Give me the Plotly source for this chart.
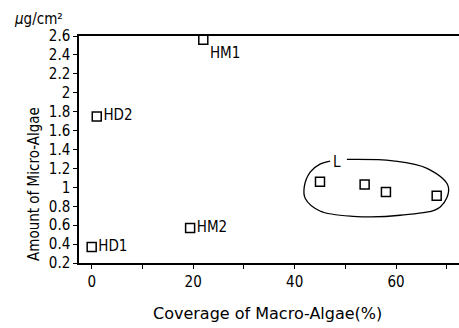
import plotly.graph_objects as go

# Data
site_labels = ["HD1", "HD2", "HM1", "HM2"]
site_x = [0.0, 1.0, 22.0, 19.4]
site_y = [0.37, 1.75, 2.56, 0.57]

l_x = [45.0, 53.8, 58.0, 68.0]
l_y = [1.06, 1.03, 0.95, 0.91]

# outline around group L (data coords)
outline_x = [50.3, 59.4, 66.1, 70.3, 68.7, 60.8, 51.5, 45.0, 42.1, 41.9, 43.1, 45.0, 47.0]
outline_y = [1.295, 1.28, 1.20, 1.005, 0.793, 0.705, 0.694, 0.75, 0.882, 1.005, 1.163, 1.245, 1.277]

y_ticks = [0.2, 0.4, 0.6, 0.8, 1, 1.2, 1.4, 1.6, 1.8, 2, 2.2, 2.4, 2.6]
x_ticks = [0, 20, 40, 60]

FONT = "DejaVu Sans Condensed"
L, R, T, B, W, H = 79, 0, 36, 65, 459, 328
PW = W - L - R

fig = go.Figure()

fig.add_trace(go.Scatter(
    x=outline_x, y=outline_y, mode="lines",
    line=dict(color="black", width=1.3, shape="spline", smoothing=1.0),
    hoverinfo="skip", showlegend=False))

fig.add_trace(go.Scatter(
    x=site_x, y=site_y, mode="markers+text",
    marker=dict(symbol="square-open", size=9, color="black", line=dict(width=1.5)),
    text=site_labels, textposition=["middle right", "middle right", "bottom right", "middle right"],
    textfont=dict(family=FONT, size=15, color="black"),
    showlegend=False))

fig.add_trace(go.Scatter(
    x=l_x, y=l_y, mode="markers",
    marker=dict(symbol="square-open", size=9, color="black", line=dict(width=1.5)),
    showlegend=False))

fig.add_annotation(x=48.3, y=1.27, text="L", showarrow=False,
                   font=dict(family=FONT, size=15, color="black"))

fig.add_annotation(x=(12 - L) / PW, y=1.0, xref="paper", yref="paper", yshift=T - 19,
                   xanchor="left", yanchor="middle",
                   text="<i>µ</i>g/cm²", showarrow=False,
                   font=dict(family=FONT, size=15, color="black"))

fig.add_annotation(x=(267 - L) / PW, y=0.0, xref="paper", yref="paper", yshift=-(313 - (H - B)),
                   xanchor="center", yanchor="middle",
                   text="Coverage of Macro-Algae(%)", showarrow=False,
                   font=dict(family="DejaVu Sans", size=16, color="black"))

fig.add_annotation(x=(34 - L) / PW, y=1.0, xref="paper", yref="paper", yshift=-(184 - T),
                   xanchor="center", yanchor="middle", textangle=-90,
                   text="Amount of Micro-Algae", showarrow=False,
                   font=dict(family=FONT, size=15, color="black"))

fig.update_layout(
    width=W, height=H,
    margin=dict(l=L, r=R, t=T, b=B),
    plot_bgcolor="white", paper_bgcolor="white",
    font=dict(family=FONT, size=15, color="black"),
    xaxis=dict(
        range=[-2.5, 72.4], tickvals=x_ticks, ticktext=[str(v) for v in x_ticks],
        ticks="outside", ticklen=4, tickwidth=1.3, tickcolor="black",
        minor=dict(tickvals=[10, 30, 50, 70], ticks="outside", ticklen=4, tickwidth=1.3, tickcolor="black"),
        showline=True, linecolor="black", linewidth=1.5, mirror=True,
        showgrid=False, zeroline=False, automargin=False,
    ),
    yaxis=dict(
        range=[0.2, 2.6], tickvals=y_ticks, ticktext=[f"{v:g}" for v in y_ticks],
        ticks="outside", ticklen=4, tickwidth=1.3, tickcolor="black",
        showline=True, linecolor="black", linewidth=1.5,
        showgrid=False, zeroline=False, automargin=False,
    ),
)

fig.write_html("out.html", config={"displayModeBar": False},
               post_script="document.body.style.margin='0px';document.body.style.overflow='hidden';")
